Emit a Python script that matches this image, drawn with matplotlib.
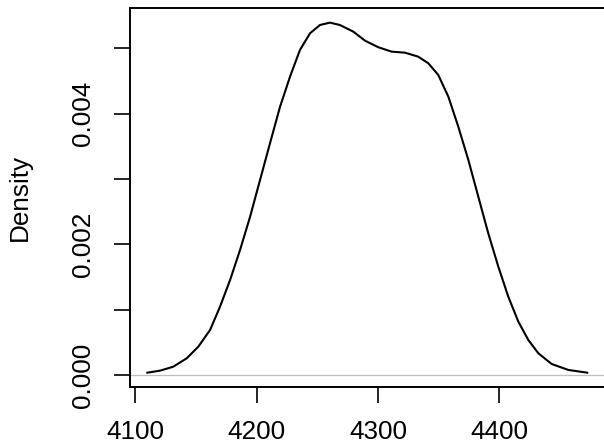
import matplotlib
matplotlib.use("Agg")
import matplotlib.pyplot as plt

# density curve, points
dens_x = [4109.9, 4120.4, 4131.3, 4142.4, 4151.9, 4161.6, 4169.8, 4178.1,
          4186.3, 4194.6, 4202.8, 4211.0, 4219.3, 4227.5, 4235.7, 4244.0,
          4252.2, 4260.4, 4268.6, 4279.7, 4289.3, 4300.3, 4311.3, 4322.3,
          4333.2, 4341.5, 4349.7, 4358.0, 4366.2, 4374.5, 4382.7, 4390.9,
          4399.2, 4407.4, 4415.7, 4423.9, 4432.2, 4443.2, 4456.9, 4472.5]
dens_y = [0.000035, 0.000066, 0.000127, 0.000256, 0.000433, 0.000689,
          0.001045, 0.001454, 0.001913, 0.002423, 0.002985, 0.003547,
          0.004107, 0.004566, 0.004975, 0.005230, 0.005357, 0.005393,
          0.005357, 0.005255, 0.005117, 0.005016, 0.004949, 0.004933,
          0.004872, 0.004771, 0.004592, 0.004260, 0.003801, 0.003291,
          0.002729, 0.002169, 0.001658, 0.001199, 0.000816, 0.000536,
          0.000332, 0.000168, 0.000077, 0.000035]

x_ticks = [4100, 4200, 4300, 4400]
y_ticks = [0.000, 0.001, 0.002, 0.003, 0.004, 0.005]
y_tick_labels = ["0.000", "", "0.002", "", "0.004", ""]

plt.rcParams["font.family"] = ["Liberation Sans", "DejaVu Sans"]

fig = plt.figure(figsize=(6.04, 4.47), dpi=100)
ax = fig.add_axes([130 / 604, 60 / 447, 490 / 604, 379 / 447])

ax.axhline(0, color="#BEBEBE", lw=0.9, zorder=1)
ax.plot(dens_x, dens_y, color="black", lw=1.5, zorder=2,
        solid_joinstyle="round")

ax.set_xlim(4095.6, 4499.5)
ax.set_ylim(-0.000184, 0.005617)

ax.set_xticks(x_ticks)
ax.set_xticklabels([str(v) for v in x_ticks])
ax.set_yticks(y_ticks)
ax.set_yticklabels(y_tick_labels)

ax.tick_params(axis="both", direction="out", length=11.5, width=1.2,
               labelsize=18.8, color="black")
ax.tick_params(axis="x", pad=12)
ax.tick_params(axis="y", pad=14, labelrotation=90)
for lab in ax.get_yticklabels():
    lab.set_va("center")
    lab.set_ha("right")

for side in ["left", "bottom", "top"]:
    ax.spines[side].set_linewidth(1.4)
ax.spines["right"].set_visible(False)

ax.set_ylabel("Density", fontsize=18.8)
ax.yaxis.set_label_coords(-(130 - 32) / 490, 0.5)

fig.savefig("out.png", dpi=100)
